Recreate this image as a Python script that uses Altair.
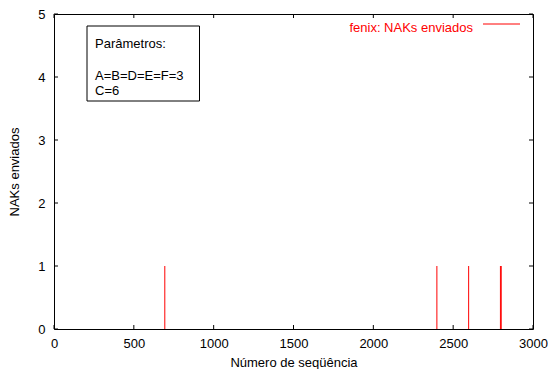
import altair as alt
import pandas as pd

# ---- data ----
nak_seq = [694, 2398, 2597, 2796, 2801]
nak_count = [1, 1, 1, 1, 1]
x_ticks = [0, 500, 1000, 1500, 2000, 2500, 3000]
y_ticks = [0, 1, 2, 3, 4, 5]
param_head = "Parâmetros:"
param_body = ["A=B=D=E=F=3", "C=6"]
legend_label = "fenix: NAKs enviados"
x_title = "Número de seqüência"
y_title = "NAKs enviados"

W, H = 479, 315
FONT = "Liberation Sans"
FS = 13
RED = "#ff0000"

xs = alt.Scale(domain=[0, 3000], nice=False, zero=False)
ys = alt.Scale(domain=[0, 5], nice=False)

df = pd.DataFrame({"seq": nak_seq, "naks": nak_count, "base": [0] * len(nak_seq)})

axis_common = dict(
    tickSize=0, domain=False, grid=False, format="d",
    labelFont=FONT, titleFont=FONT, labelFontSize=FS, titleFontSize=FS,
    titleFontWeight="normal", labelColor="black", titleColor="black",
    labelFlush=False, labelOverlap=False,
)
x_axis = alt.Axis(title=x_title, values=x_ticks, labelPadding=8,
                  titleY=33, titleBaseline="middle", **axis_common)
y_axis = alt.Axis(title=y_title, values=y_ticks, labelPadding=9,
                  titleX=-40, titleBaseline="middle", **axis_common)

impulses = alt.Chart(df).mark_rule(color=RED, strokeWidth=1).encode(
    x=alt.X("seq:Q", scale=xs, axis=x_axis),
    y=alt.Y("naks:Q", scale=ys, axis=y_axis),
    y2="base:Q",
)

xt = pd.DataFrame({"v": x_ticks})
yt = pd.DataFrame({"v": y_ticks})

bottom_ticks = alt.Chart(xt).mark_rule(color="black", strokeWidth=1).encode(
    x=alt.X("v:Q", scale=xs, axis=x_axis), y=alt.value(H), y2=alt.value(H - 4))
top_ticks = alt.Chart(xt).mark_rule(color="black", strokeWidth=1).encode(
    x=alt.X("v:Q", scale=xs, axis=x_axis), y=alt.value(0), y2=alt.value(4))
left_ticks = alt.Chart(yt).mark_rule(color="black", strokeWidth=1).encode(
    y=alt.Y("v:Q", scale=ys, axis=y_axis), x=alt.value(0), x2=alt.value(4))
right_ticks = alt.Chart(yt).mark_rule(color="black", strokeWidth=1).encode(
    y=alt.Y("v:Q", scale=ys, axis=y_axis), x=alt.value(W - 4), x2=alt.value(W))

one = pd.DataFrame({"label": [legend_label], "head": [param_head],
                    "body": ["\n".join(param_body)]})

legend_text = alt.Chart(one).mark_text(
    align="right", baseline="alphabetic", font=FONT, fontSize=FS, color=RED
).encode(text="label:N", x=alt.value(419), y=alt.value(18))
legend_line = alt.Chart(one).mark_rule(color=RED, strokeWidth=1).encode(
    x=alt.value(429), x2=alt.value(466), y=alt.value(10))

param_box = alt.Chart(one).mark_rect(
    fill="white", stroke="black", strokeWidth=1
).encode(x=alt.value(33), x2=alt.value(145.5), y=alt.value(12), y2=alt.value(87))
param_head_text = alt.Chart(one).mark_text(
    align="left", baseline="alphabetic", font=FONT, fontSize=FS, color="black"
).encode(text="head:N", x=alt.value(41), y=alt.value(34))
param_body_text = alt.Chart(one).mark_text(
    align="left", baseline="alphabetic", font=FONT, fontSize=FS, color="black",
    lineBreak="\n", lineHeight=15.7
).encode(text="body:N", x=alt.value(41), y=alt.value(65.5))

chart = alt.layer(
    impulses, bottom_ticks, top_ticks, left_ticks, right_ticks,
    param_box, param_head_text, param_body_text, legend_text, legend_line
).properties(
    width=W, height=H,
    autosize=alt.AutoSizeParams(type="none"),
    padding={"left": 46, "top": 6, "right": 15, "bottom": 40},
    background="white",
).configure_view(stroke="black", strokeWidth=1)

chart.save("out.html", embed_options={"renderer": "svg", "actions": False})
